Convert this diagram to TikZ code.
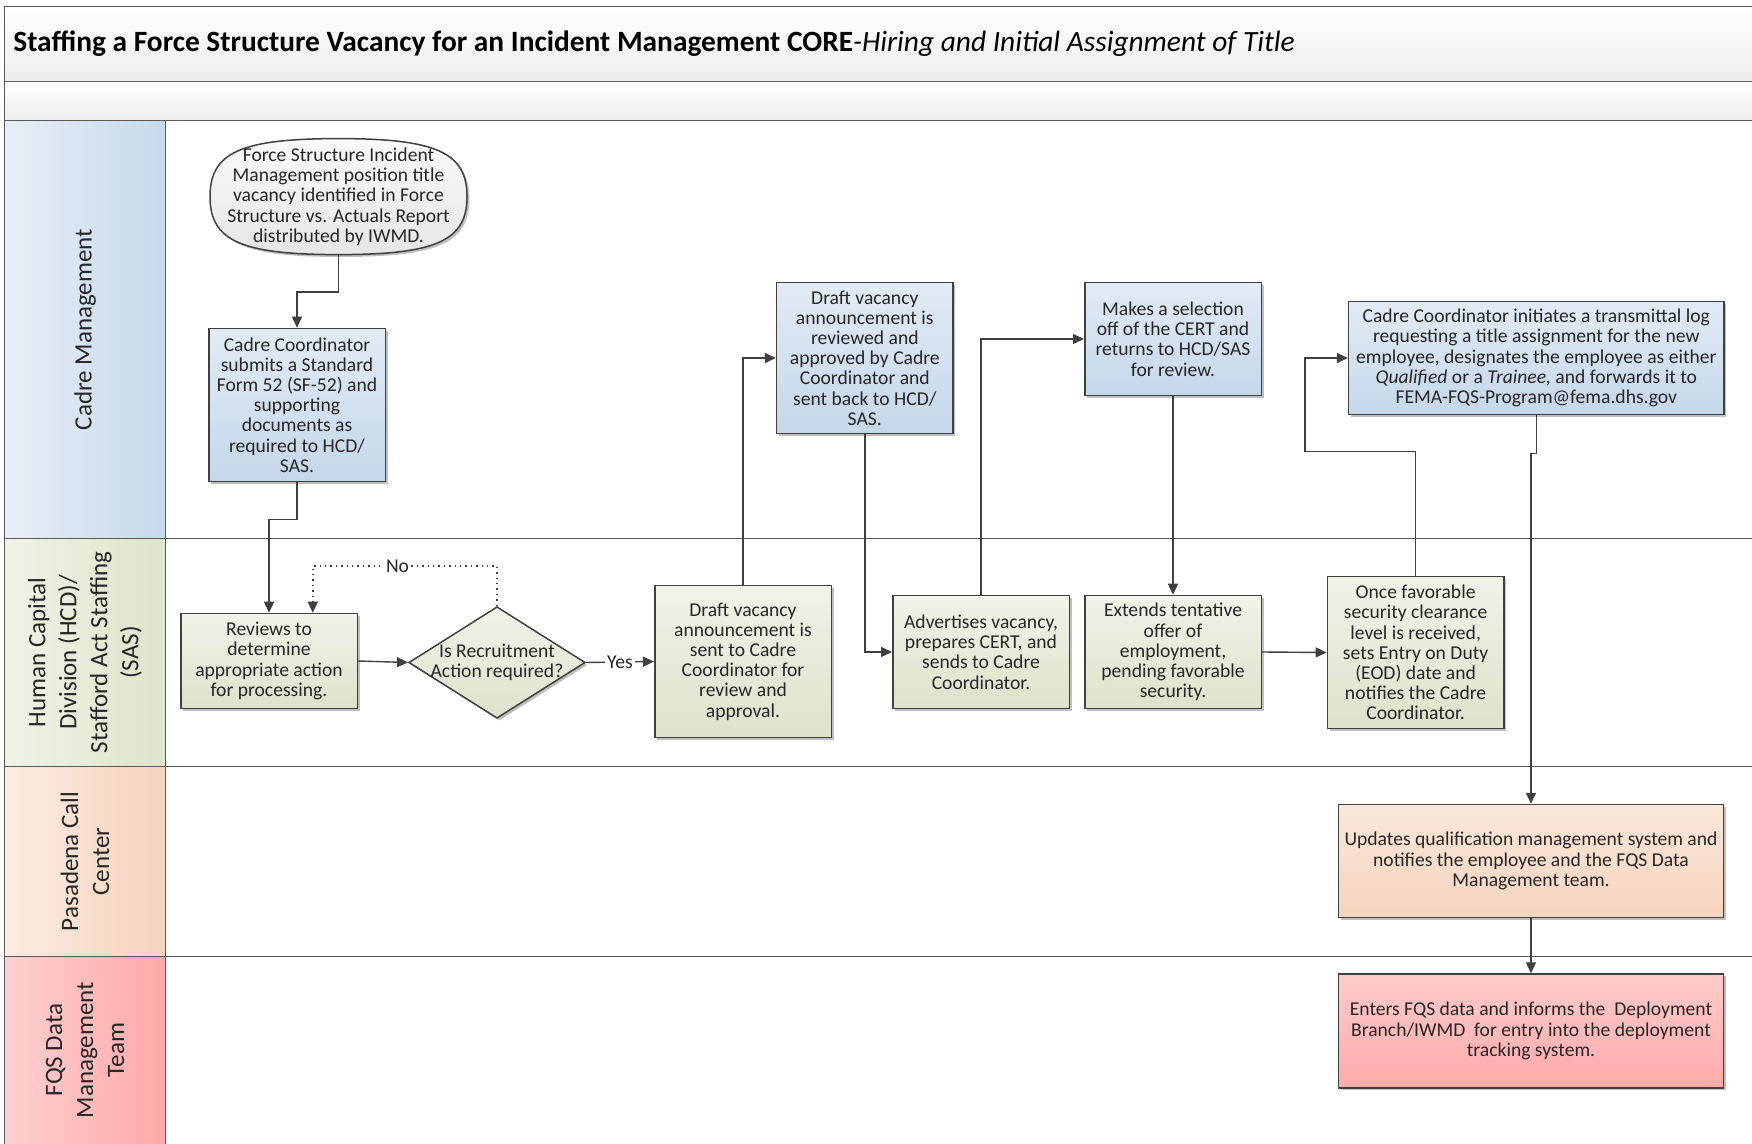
\documentclass[tikz,border=0pt]{standalone}
\usepackage{fontspec}
\setmainfont{Carlito}
\usetikzlibrary{arrows.meta,shapes.geometric,shadows}

\definecolor{linegray}{HTML}{404040}
\definecolor{framegray}{HTML}{595959}
\definecolor{txt}{HTML}{262626}
% box fills (top / bottom)
\definecolor{blueT}{HTML}{E2EBF5}\definecolor{blueB}{HTML}{C5D7EA}
\definecolor{greenT}{HTML}{F0F3E9}\definecolor{greenB}{HTML}{DCE3CB}
\definecolor{peachT}{HTML}{FAE7DA}\definecolor{peachB}{HTML}{F5D4BE}
\definecolor{pinkT}{HTML}{FFCBCB}\definecolor{pinkB}{HTML}{FFAAAA}
\definecolor{grayT}{HTML}{FAFAFA}\definecolor{grayB}{HTML}{E6E6E6}
% lane header fills (left / right)
\definecolor{hBlueL}{HTML}{E8EEF6}\definecolor{hBlueR}{HTML}{C6D9EC}
\definecolor{hGreenL}{HTML}{EFF3E7}\definecolor{hGreenR}{HTML}{DDE5CA}
\definecolor{hPeachL}{HTML}{FBECE2}\definecolor{hPeachR}{HTML}{F6D3BC}
\definecolor{hPinkL}{HTML}{FFD0D0}\definecolor{hPinkR}{HTML}{FFA8A8}

\newcommand\bxfont{\fontsize{9.8pt}{10.1pt}\selectfont}
\newcommand\lanefont{\fontsize{12.5pt}{15.5pt}\selectfont}
\newcommand\ttlfont{\fontsize{14.7pt}{17pt}\selectfont}

\begin{document}
\begin{tikzpicture}[x=0.5pt,y=-0.5pt,
  frame/.style={draw=framegray, line width=0.75pt},
  conn/.style={draw=linegray, line width=0.7pt},
  arr/.style={conn, -{Triangle[length=5.5pt,width=5pt]}},
  shadowed/.style={drop shadow={shadow xshift=1.2pt, shadow yshift=-1.2pt, opacity=0.25, fill=black}},
  box/.style={rectangle, draw=linegray, line width=0.75pt, align=center,
    font=\bxfont, text=txt, inner sep=0pt, minimum width=88.25pt, shadowed},
  bluebox/.style={box, top color=blueT, bottom color=blueB},
  greenbox/.style={box, top color=greenT, bottom color=greenB},
  peachbox/.style={box, top color=peachT, bottom color=peachB},
  pinkbox/.style={box, top color=pinkT, bottom color=pinkB},
  inlabel/.style={align=center, font=\bxfont, text=txt},
  lanelabel/.style={rotate=90, align=center, font=\lanefont, text=txt},
  edgelabel/.style={fill=white, inner sep=1pt, font=\bxfont, text=txt}
]
\useasboundingbox (0,0) rectangle (1752,1144);
\clip (0,0) rectangle (1752,1144);

% ---- title bands ----
\shade[top color=white, bottom color=black!7] (4.5,6.7) rectangle (1760,81.6);
\shade[top color=white, bottom color=black!7] (4.5,81.6) rectangle (1760,120.7);
\node[anchor=west, font=\ttlfont, text=black, inner sep=0pt] (title) at (13,44)
  {\textbf{Staffing a Force Structure Vacancy for an Incident Management CORE}\textit{-Hiring and Initial Assignment of Title}};

% ---- lane headers ----
\shade[left color=hBlueL, right color=hBlueR] (4.5,120.7) rectangle (165.4,538.5);
\shade[left color=hGreenL, right color=hGreenR] (4.5,538.5) rectangle (165.4,766.5);
\shade[left color=hPeachL, right color=hPeachR] (4.5,766.5) rectangle (165.4,956.4);
\shade[left color=hPinkL, right color=hPinkR] (4.5,956.4) rectangle (165.4,1150);

% ---- frame and lane separators ----
\draw[frame] (1760,6.7) -- (4.5,6.7) -- (4.5,1150);
\draw[frame] (165.4,120.7) -- (165.4,1150);
\foreach \yy in {81.6,120.7,538.5,766.5,956.4}
  \draw[frame] (4.5,\yy) -- (1760,\yy);

\node[lanelabel] (l1) at (85,329.6) {Cadre Management};
\node[lanelabel] (l2) at (85,652.5) {Human Capital\\Division (HCD)/\\Stafford Act Staffing\\(SAS)};
\node[lanelabel] (l3) at (85,861.5) {Pasadena Call\\Center};
\node[lanelabel] (l4) at (85,1050) {FQS Data\\Management\\Team};

% ---- start terminator: a full, rounded oval ----
\path[draw=linegray, line width=0.75pt, top color=grayT, bottom color=grayB, shadowed]
  (467,196.6) .. controls (467,240.7) and (436.2,254.6) .. (338.5,254.6)
  .. controls (240.8,254.6) and (210,240.7) .. (210,196.6)
  .. controls (210,152.5) and (240.8,138.6) .. (338.5,138.6)
  .. controls (436.2,138.6) and (467,152.5) .. (467,196.6) -- cycle;
\node[rectangle, minimum width=128.5pt, minimum height=58pt, inner sep=0pt, inlabel]
  (start) at (338.5,196.6)
  {Force Structure Incident\\Management position title\\vacancy identified in Force\\Structure vs. Actuals Report\\distributed by IWMD.};

% ---- process nodes ----
\node[bluebox, minimum height=76.5pt] (sf52) at (297,405)
  {Cadre Coordinator\\submits a Standard\\Form 52 (SF-52) and\\supporting\\documents as\\required to HCD/\\SAS.};

\node[greenbox, minimum height=47.5pt] (review) at (269,661)
  {Reviews to\\determine\\appropriate action\\for processing.};

\node[diamond, draw=linegray, line width=0.75pt, top color=greenT, bottom color=greenB,
  minimum width=88.25pt, minimum height=55.8pt, inner sep=0pt, shadowed,
  label={[inlabel]center:Is Recruitment\\Action required?}]
  (decide) at (497,662.5) {};

\node[greenbox, minimum height=76pt] (draftsent) at (743,661.5)
  {Draft vacancy\\announcement is\\sent to Cadre\\Coordinator for\\review and\\approval.};

\node[bluebox, minimum height=75.5pt] (draftok) at (864.8,358)
  {Draft vacancy\\announcement is\\reviewed and\\approved by Cadre\\Coordinator and\\sent back to HCD/\\SAS.};

\node[greenbox, minimum height=56.5pt] (advert) at (981,652)
  {Advertises vacancy,\\prepares CERT, and\\sends to Cadre\\Coordinator.};

\node[bluebox, minimum height=56.5pt] (select) at (1173,339)
  {Makes a selection\\off of the CERT and\\returns to HCD/SAS\\for review.};

\node[greenbox, minimum height=56.5pt] (offer) at (1173,652)
  {Extends tentative\\offer of\\employment,\\pending favorable\\security.};

\node[greenbox, minimum height=76pt] (eod) at (1415.6,652.5)
  {Once favorable\\security clearance\\level is received,\\sets Entry on Duty\\(EOD) date and\\notifies the Cadre\\Coordinator.};

\node[bluebox, minimum width=187.7pt, minimum height=56.5pt] (translog) at (1536.3,358)
  {Cadre Coordinator initiates a transmittal log\\requesting a title assignment for the new\\employee, designates the employee as either\\\textit{Qualified} or a \textit{Trainee,} and forwards it to\\FEMA-FQS-Program@fema.dhs.gov};

\node[peachbox, minimum width=192.7pt, minimum height=56.5pt] (update) at (1531,861)
  {Updates qualification management system and\\notifies the employee and the FQS Data\\Management team.};

\node[pinkbox, minimum width=192.7pt, minimum height=57pt] (enter) at (1531,1031)
  {Enters FQS data and informs the\ \ Deployment\\Branch/IWMD\ \ for entry into the deployment\\tracking system.};

% ---- connectors ----
\draw[arr] (start.south) -- ++(0,37) -| (sf52.north);
\draw[arr] (sf52.south) -- ++(0,37) -| (review.north);
\draw[arr, dotted] (decide.north) -- ++(0,-40) -| ([xshift=21.9pt]review.north)
  node[edgelabel, pos=0.27] {No};
\draw[arr] (review.east) -- (decide.west);
\draw[arr] (decide.east) -- node[edgelabel] {Yes} (draftsent.west);
\draw[arr] (draftsent.north) |- (draftok.west);
\draw[arr] (draftok.south) |- (advert.west);
\draw[arr] (advert.north) |- (select.west);
\draw[arr] (select.south) -- (offer.north);
\draw[arr] (offer.east) -- (eod.west);
\draw[arr] (eod.north) -- ++(0,-124) -- ++(-110.6,0) |- (translog.west);
\draw[arr] (translog.south) -- ++(0,38) -| (update.north);
\draw[arr] (update.south) -- (enter.north);
\end{tikzpicture}
\end{document}
